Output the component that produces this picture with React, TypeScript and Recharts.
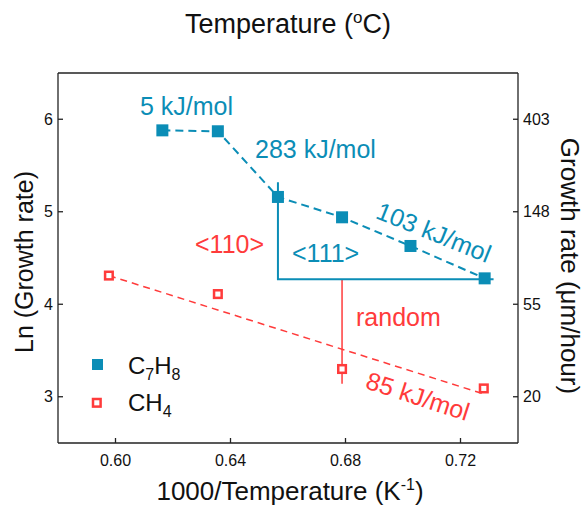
import { ComposedChart, Scatter, XAxis, YAxis } from 'recharts'

const TEAL = '#0b8db6'
const RED = '#ff3b3b'
const FONT = '"Liberation Sans", Arial, sans-serif'

// 1000/T (K^-1) and ln(growth rate)
const c7h8InvT = [0.6163, 0.6356, 0.6565, 0.6788, 0.7026, 0.7284]
const c7h8Ln = [5.88, 5.87, 5.16, 4.94, 4.63, 4.28]
const ch4InvT = [0.5977, 0.6356, 0.6788, 0.7281]
const ch4Ln = [4.31, 4.11, 3.3, 3.09]
const ch4FitInvT = [0.5977, 0.7281]
const ch4FitLn = [4.31, 3.03]
const facetInvT = [0.6565, 0.6565, 0.7315]
const facetLn = [5.32, 4.27, 4.27]
const randomInvT = [0.6788, 0.6788]
const randomLn = [4.27, 3.14]

const xTicks = [0.6, 0.64, 0.68, 0.72]
const yTicks = [3, 4, 5, 6]
const tempLabels = ['1394', '1289', '1198', '1116']
const rateLabels = ['20', '55', '148', '403']

const toPoints = (xs: number[], ys: number[]) => xs.map((x, i) => ({ x, y: ys[i] }))

const c7h8 = toPoints(c7h8InvT, c7h8Ln)
const ch4 = toPoints(ch4InvT, ch4Ln)
const ch4Fit = toPoints(ch4FitInvT, ch4FitLn)
const facet = toPoints(facetInvT, facetLn)
const random = toPoints(randomInvT, randomLn)

const FilledSquare = (p: any) => <rect x={p.cx - 6} y={p.cy - 6} width={12} height={12} fill={TEAL} />
const OpenSquare = (p: any) => (
  <rect x={p.cx - 3.8} y={p.cy - 3.8} width={7.6} height={7.6} fill="#fff" stroke={RED} strokeWidth={2.5} />
)
const NoShape = () => <g />

const tick = { fontSize: 16, fill: '#111', fontFamily: FONT }
const axisLine = { stroke: '#222', strokeWidth: 1.3 }

export default function App() {
  return (
    <div style={{ position: 'absolute', left: 0, top: 0, width: 585, height: 510, background: '#fff' }}>
      <ComposedChart width={585} height={510} margin={{ top: 72, right: 66, bottom: 66, left: 57 }}>
        <XAxis
          xAxisId="b"
          dataKey="x"
          type="number"
          domain={[0.58, 0.74]}
          ticks={xTicks}
          tickFormatter={(v) => Number(v).toFixed(2)}
          allowDataOverflow
          height={1}
          tickSize={-5}
          tickMargin={17}
          tick={tick}
          axisLine={axisLine}
          tickLine={axisLine}
        />
        <XAxis
          xAxisId="t"
          orientation="top"
          type="number"
          domain={[0.58, 0.74]}
          ticks={xTicks}
          tickFormatter={(_v, i) => tempLabels[i]}
          allowDataOverflow
          height={1}
          tickSize={-5}
          tickMargin={15}
          tick={tick}
          axisLine={axisLine}
          tickLine={axisLine}
        />
        <YAxis
          yAxisId="l"
          dataKey="y"
          type="number"
          domain={[2.5, 6.5]}
          ticks={yTicks}
          allowDataOverflow
          width={1}
          tickSize={-5}
          tickMargin={10}
          tick={tick}
          axisLine={axisLine}
          tickLine={axisLine}
        />
        <YAxis
          yAxisId="r"
          orientation="right"
          type="number"
          domain={[2.5, 6.5]}
          ticks={yTicks}
          tickFormatter={(_v, i) => rateLabels[i]}
          allowDataOverflow
          width={1}
          tickSize={-5}
          tickMargin={10}
          tick={tick}
          axisLine={axisLine}
          tickLine={axisLine}
        />
        <Scatter
          xAxisId="b"
          yAxisId="l"
          data={ch4Fit}
          dataKey="y"
          line={{ stroke: RED, strokeWidth: 1.5, strokeDasharray: '7 5' }}
          lineType="joint"
          shape={NoShape}
          isAnimationActive={false}
        />
        <Scatter
          xAxisId="b"
          yAxisId="l"
          data={random}
          dataKey="y"
          line={{ stroke: RED, strokeWidth: 1.5 }}
          lineType="joint"
          shape={NoShape}
          isAnimationActive={false}
        />
        <Scatter
          xAxisId="b"
          yAxisId="l"
          data={facet}
          dataKey="y"
          line={{ stroke: TEAL, strokeWidth: 2 }}
          lineType="joint"
          shape={NoShape}
          isAnimationActive={false}
        />
        <Scatter
          xAxisId="b"
          yAxisId="l"
          data={c7h8}
          dataKey="y"
          line={{ stroke: TEAL, strokeWidth: 2, strokeDasharray: '8 5' }}
          lineType="joint"
          shape={FilledSquare}
          isAnimationActive={false}
        />
        <Scatter
          xAxisId="b"
          yAxisId="l"
          data={ch4}
          dataKey="y"
          shape={OpenSquare}
          isAnimationActive={false}
        />
      </ComposedChart>
      <svg
        width={585}
        height={510}
        style={{ position: 'absolute', left: 0, top: 0, pointerEvents: 'none' }}
        fontFamily={FONT}
      >
        <text x={288} y={33} textAnchor="middle" fontSize={27} fill="#111">
          Temperature (<tspan fontSize={17} dy={-10}>o</tspan>
          <tspan dy={10}>C)</tspan>
        </text>
        <text x={290} y={500} textAnchor="middle" fontSize={26} fill="#111">
          1000/Temperature (K<tspan fontSize={16} dy={-10}>-1</tspan>
          <tspan dy={10}>)</tspan>
        </text>
        <text x={33} y={262} textAnchor="middle" fontSize={25} fill="#111" transform="rotate(-90 33 262)">
          Ln (Growth rate)
        </text>
        <text x={561} y={266} textAnchor="middle" fontSize={26} fill="#111" transform="rotate(90 561 266)">
          Growth rate (μm/hour)
        </text>

        <rect x={92} y={359} width={11} height={11} fill={TEAL} />
        <text x={128} y={374} fontSize={24} fill="#111">
          C<tspan fontSize={16} dy={6}>7</tspan>
          <tspan dy={-6}>H</tspan>
          <tspan fontSize={16} dy={6}>8</tspan>
        </text>
        <rect x={93} y={399} width={7.6} height={7.6} fill="#fff" stroke={RED} strokeWidth={2.5} />
        <text x={128} y={411} fontSize={24} fill="#111">
          CH<tspan fontSize={16} dy={6}>4</tspan>
        </text>

        <text x={140} y={115} fontSize={25} fill={TEAL}>5 kJ/mol</text>
        <text x={255} y={158} fontSize={25} fill={TEAL}>283 kJ/mol</text>
        <text x={434} y={232} fontSize={25} fill={TEAL} textAnchor="middle" dominantBaseline="central" transform="rotate(22 434 232)">
          103 kJ/mol
        </text>
        <text x={195} y={253} fontSize={25} fill={RED}>&lt;110&gt;</text>
        <text x={292} y={262} fontSize={25} fill={TEAL}>&lt;111&gt;</text>
        <text x={356} y={326} fontSize={25} fill={RED}>random</text>
        <text x={418} y={396} fontSize={25} fill={RED} textAnchor="middle" dominantBaseline="central" transform="rotate(18 418 396)">
          85 kJ/mol
        </text>
      </svg>
    </div>
  )
}
